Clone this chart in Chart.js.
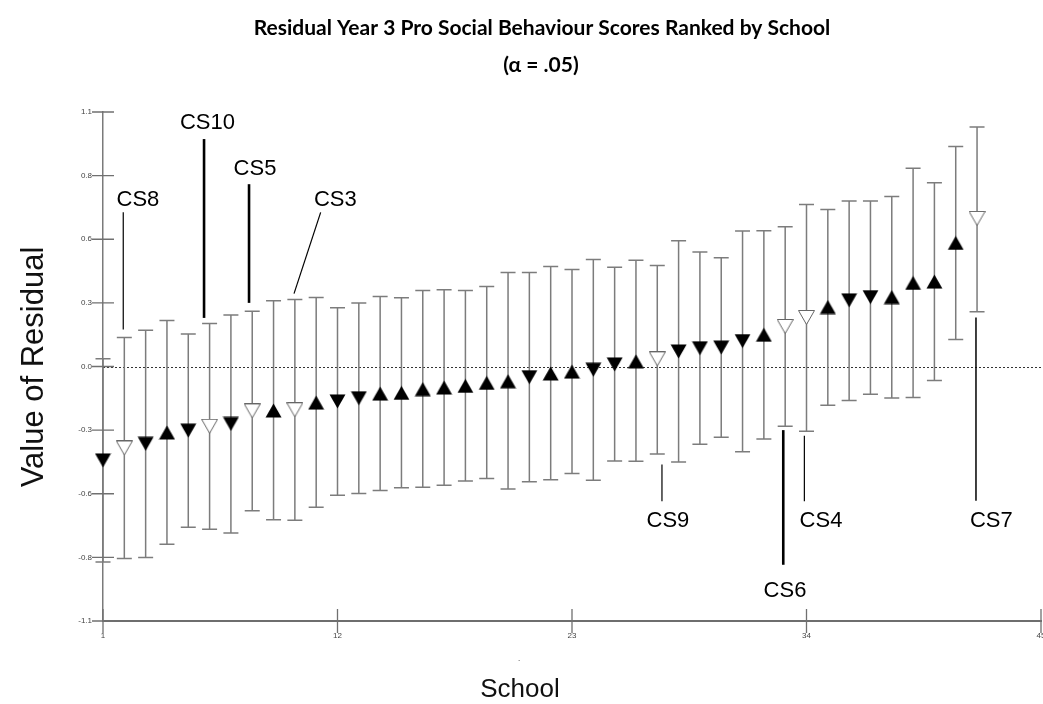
<!DOCTYPE html>
<html>
<head>
<meta charset="utf-8">
<title>Residual Year 3 Pro Social Behaviour Scores Ranked by School</title>
<script src="https://cdn.jsdelivr.net/npm/chart.js@4.4.1/dist/chart.umd.min.js"></script>
<style>
  html, body { margin: 0; padding: 0; background: #ffffff; overflow: hidden; }
  #wrap { width: 1043px; height: 704px; position: relative; }
</style>
</head>
<body>
<div id="wrap"><canvas id="chart"></canvas></div>
<script>
// Schools in rank order (1 = lowest residual)
const schools = [1, 2, 3, 4, 5, 6, 7, 8, 9, 10, 11, 12, 13, 14, 15, 16, 17, 18, 19, 20, 21,
                 22, 23, 24, 25, 26, 27, 28, 29, 30, 31, 32, 33, 34, 35, 36, 37, 38, 39, 40, 41, 42];

// Residual score for each school
const residuals = [-0.406, -0.352, -0.334, -0.285, -0.277, -0.258, -0.248, -0.192, -0.190, -0.187,
                   -0.156, -0.151, -0.137, -0.117, -0.114, -0.098, -0.091, -0.084, -0.071, -0.064,
                   -0.046, -0.030, -0.022, -0.014, 0.009, 0.022, 0.033, 0.065, 0.079, 0.082,
                   0.110, 0.137, 0.173, 0.212, 0.257, 0.286, 0.300, 0.300, 0.361, 0.367,
                   0.534, 0.640];

// Upper and lower limits of the 95% interval (alpha = .05)
const upperBounds = [0.033, 0.125, 0.157, 0.199, 0.141, 0.186, 0.223, 0.239, 0.284, 0.290,
                     0.298, 0.254, 0.275, 0.303, 0.297, 0.328, 0.332, 0.328, 0.346, 0.406,
                     0.406, 0.432, 0.419, 0.463, 0.429, 0.459, 0.437, 0.544, 0.495, 0.470,
                     0.586, 0.587, 0.604, 0.700, 0.679, 0.715, 0.715, 0.735, 0.857, 0.794,
                     0.951, 1.035];
const lowerBounds = [-0.845, -0.830, -0.826, -0.768, -0.695, -0.703, -0.720, -0.624, -0.662, -0.665,
                     -0.608, -0.557, -0.549, -0.536, -0.524, -0.522, -0.513, -0.495, -0.484, -0.530,
                     -0.498, -0.490, -0.462, -0.492, -0.408, -0.410, -0.378, -0.413, -0.336, -0.306,
                     -0.368, -0.313, -0.258, -0.280, -0.168, -0.147, -0.120, -0.136, -0.134, -0.060,
                     0.117, 0.237];

// Marker for each school: 'up' / 'down' filled triangles, 'open' = case study school
const markerTypes = ['down', 'open', 'down', 'up', 'down', 'open', 'down', 'open', 'up', 'open',
                     'up', 'down', 'down', 'up', 'up', 'up', 'up', 'up', 'up', 'up',
                     'down', 'up', 'up', 'down', 'down', 'up', 'open', 'down', 'down', 'down',
                     'down', 'up', 'open', 'open', 'up', 'down', 'down', 'up', 'up', 'up',
                     'up', 'open'];

// Case study labels and the school each one refers to
const calloutLabels = ['CS8', 'CS10', 'CS5', 'CS3', 'CS9', 'CS6', 'CS4', 'CS7'];
const calloutSchools = [2, 6, 8, 10, 27, 33, 34, 42];

// Axis ticks
const xTickValues = [1, 12, 23, 34, 45];
const xTickLabels = ['1', '12', '23', '34', '45'];
const yTickValues = [-1.1, -0.825, -0.55, -0.275, 0, 0.275, 0.55, 0.825, 1.1];
const yTickLabels = ['-1.1', '-0.8', '-0.6', '-0.3', '0.0', '0.3', '0.6', '0.8', '1.1'];

// Callout geometry in axis units: label centre and leader line end points
const calloutLayout = [
  { tx: 2.64,  ty: 0.719,  x1: 1.95,  y1: 0.667,  x2: 1.95,  y2: 0.160,  w: 1.2 },
  { tx: 5.90,  ty: 1.052,  x1: 5.74,  y1: 0.983,  x2: 5.74,  y2: 0.210,  w: 2.6 },
  { tx: 8.13,  ty: 0.855,  x1: 7.85,  y1: 0.788,  x2: 7.85,  y2: 0.275,  w: 2.6 },
  { tx: 11.90, ty: 0.719,  x1: 11.21, y1: 0.666,  x2: 9.96,  y2: 0.315,  w: 1.2 },
  { tx: 27.50, ty: -0.667, x1: 27.22, y1: -0.424, x2: 27.22, y2: -0.582, w: 1.2 },
  { tx: 32.99, ty: -0.970, x1: 32.91, y1: -0.275, x2: 32.91, y2: -0.857, w: 2.6 },
  { tx: 34.68, ty: -0.667, x1: 33.90, y1: -0.299, x2: 33.90, y2: -0.582, w: 1.2 },
  { tx: 42.67, ty: -0.667, x1: 41.95, y1: 0.212,  x2: 41.95, y2: -0.580, w: 1.5 }
];

// Triangle markers drawn on small canvases so the box is centred on the value
function makeTriangle(kind) {
  const w = 17, h = 15;
  const c = document.createElement('canvas');
  c.width = w; c.height = h;
  const g = c.getContext('2d');
  g.beginPath();
  if (kind === 'up') {
    g.moveTo(w / 2, 0.5); g.lineTo(w - 0.5, h - 0.5); g.lineTo(0.5, h - 0.5);
  } else {
    g.moveTo(0.5, 0.5); g.lineTo(w - 0.5, 0.5); g.lineTo(w / 2, h - 0.5);
  }
  g.closePath();
  if (kind === 'open') {
    g.fillStyle = '#ffffff'; g.fill();
    g.strokeStyle = '#666666'; g.lineWidth = 1; g.stroke();
  } else {
    g.fillStyle = '#000000'; g.fill();
  }
  return c;
}
const markerImages = { up: makeTriangle('up'), down: makeTriangle('down'), open: makeTriangle('open') };

const points = schools.map((s, i) => ({ x: s, y: residuals[i] }));

const decorations = {
  id: 'decorations',
  beforeDatasetsDraw(chart) {
    const { ctx, chartArea: a, scales: { x, y } } = chart;
    ctx.save();
    // dotted zero line
    const y0 = Math.round(y.getPixelForValue(0)) + 0.5;
    ctx.setLineDash([2, 2]);
    ctx.strokeStyle = '#333333';
    ctx.lineWidth = 1;
    ctx.beginPath();
    ctx.moveTo(a.left, y0);
    ctx.lineTo(chart.width, y0);
    ctx.stroke();
    ctx.setLineDash([]);
    // interval bars with end caps
    ctx.strokeStyle = '#7c7c7c';
    ctx.lineWidth = 1.5;
    schools.forEach((s, i) => {
      const px = x.getPixelForValue(s);
      const top = y.getPixelForValue(upperBounds[i]);
      const bot = y.getPixelForValue(lowerBounds[i]);
      ctx.beginPath();
      ctx.moveTo(px, top); ctx.lineTo(px, bot);
      ctx.moveTo(px - 7.5, top); ctx.lineTo(px + 7.5, top);
      ctx.moveTo(px - 7.5, bot); ctx.lineTo(px + 7.5, bot);
      ctx.stroke();
    });
    // tick marks crossing both axes
    ctx.strokeStyle = '#707070';
    ctx.lineWidth = 1.3;
    ctx.beginPath();
    yTickValues.forEach(v => {
      const py = y.getPixelForValue(v);
      ctx.moveTo(a.left - 11, py); ctx.lineTo(a.left + 11, py);
    });
    xTickValues.forEach(v => {
      const px = x.getPixelForValue(v);
      ctx.moveTo(px, a.bottom - 12); ctx.lineTo(px, a.bottom + 12);
    });
    ctx.stroke();
    // x tick labels
    ctx.fillStyle = '#444444';
    ctx.font = '8px "Liberation Sans", Arial, sans-serif';
    ctx.textAlign = 'center';
    ctx.textBaseline = 'top';
    xTickValues.forEach((v, i) => {
      ctx.fillText(xTickLabels[i], x.getPixelForValue(v), a.bottom + 11);
    });
    ctx.restore();
  },
  afterDraw(chart) {
    const { ctx, scales: { x, y } } = chart;
    ctx.save();
    // case study callouts
    ctx.fillStyle = '#000000';
    ctx.strokeStyle = '#000000';
    ctx.font = '22px "Liberation Sans", Arial, sans-serif';
    ctx.textAlign = 'center';
    ctx.textBaseline = 'middle';
    calloutLabels.forEach((label, i) => {
      const c = calloutLayout[i];
      ctx.lineWidth = c.w;
      ctx.beginPath();
      ctx.moveTo(x.getPixelForValue(c.x1), y.getPixelForValue(c.y1));
      ctx.lineTo(x.getPixelForValue(c.x2), y.getPixelForValue(c.y2));
      ctx.stroke();
      ctx.fillText(label, x.getPixelForValue(c.tx), y.getPixelForValue(c.ty));
    });
    // titles
    ctx.font = 'bold 21px Lato, "Open Sans", sans-serif';
    ctx.fillText('Residual Year 3 Pro Social Behaviour Scores Ranked by School', 542, 28);
    ctx.fillText('(\u03b1 = .05)', 541, 65);
    // axis titles
    ctx.fillStyle = '#111111';
    ctx.font = '26px "Liberation Sans", Arial, sans-serif';
    ctx.fillText('School', 520, 690);
    ctx.font = '8px "Liberation Sans", Arial, sans-serif';
    ctx.fillText('.', 519, 659);
    ctx.save();
    ctx.translate(34, 367);
    ctx.rotate(-Math.PI / 2);
    ctx.font = '31px "Liberation Sans", Arial, sans-serif';
    ctx.fillText('Value of Residual', 0, 0);
    ctx.restore();
    ctx.restore();
  }
};

new Chart(document.getElementById('chart'), {
  type: 'scatter',
  data: {
    datasets: [{
      label: 'Residual',
      data: points,
      pointStyle: markerTypes.map(t => markerImages[t]),
      pointRadius: 8,
      pointHoverRadius: 8,
      clip: false
    }]
  },
  options: {
    responsive: true,
    maintainAspectRatio: false,
    animation: false,
    events: [],
    layout: { autoPadding: false, padding: { top: 112, right: 2, left: 0, bottom: 0 } },
    plugins: { legend: { display: false }, tooltip: { enabled: false }, title: { display: false } },
    scales: {
      x: {
        type: 'linear',
        min: 1,
        max: 45,
        grid: { display: false, drawTicks: false },
        border: { display: true, color: '#6e6e6e', width: 2 },
        afterBuildTicks: (scale) => { scale.ticks = xTickValues.map(v => ({ value: v })); },
        afterFit: (scale) => { scale.height = 83; },
        ticks: { display: false }
      },
      y: {
        type: 'linear',
        min: -1.1,
        max: 1.1,
        grid: { display: false, drawTicks: false },
        border: { display: true, color: '#7a7a7a', width: 1.5 },
        afterBuildTicks: (scale) => { scale.ticks = yTickValues.map(v => ({ value: v })); },
        afterFit: (scale) => { scale.width = 103; },
        ticks: {
          autoSkip: false,
          padding: 11,
          color: '#444444',
          font: { family: '"Liberation Sans", Arial, sans-serif', size: 8 },
          callback: (value, index) => yTickLabels[index]
        }
      }
    }
  },
  plugins: [decorations]
});
</script>
</body>
</html>
